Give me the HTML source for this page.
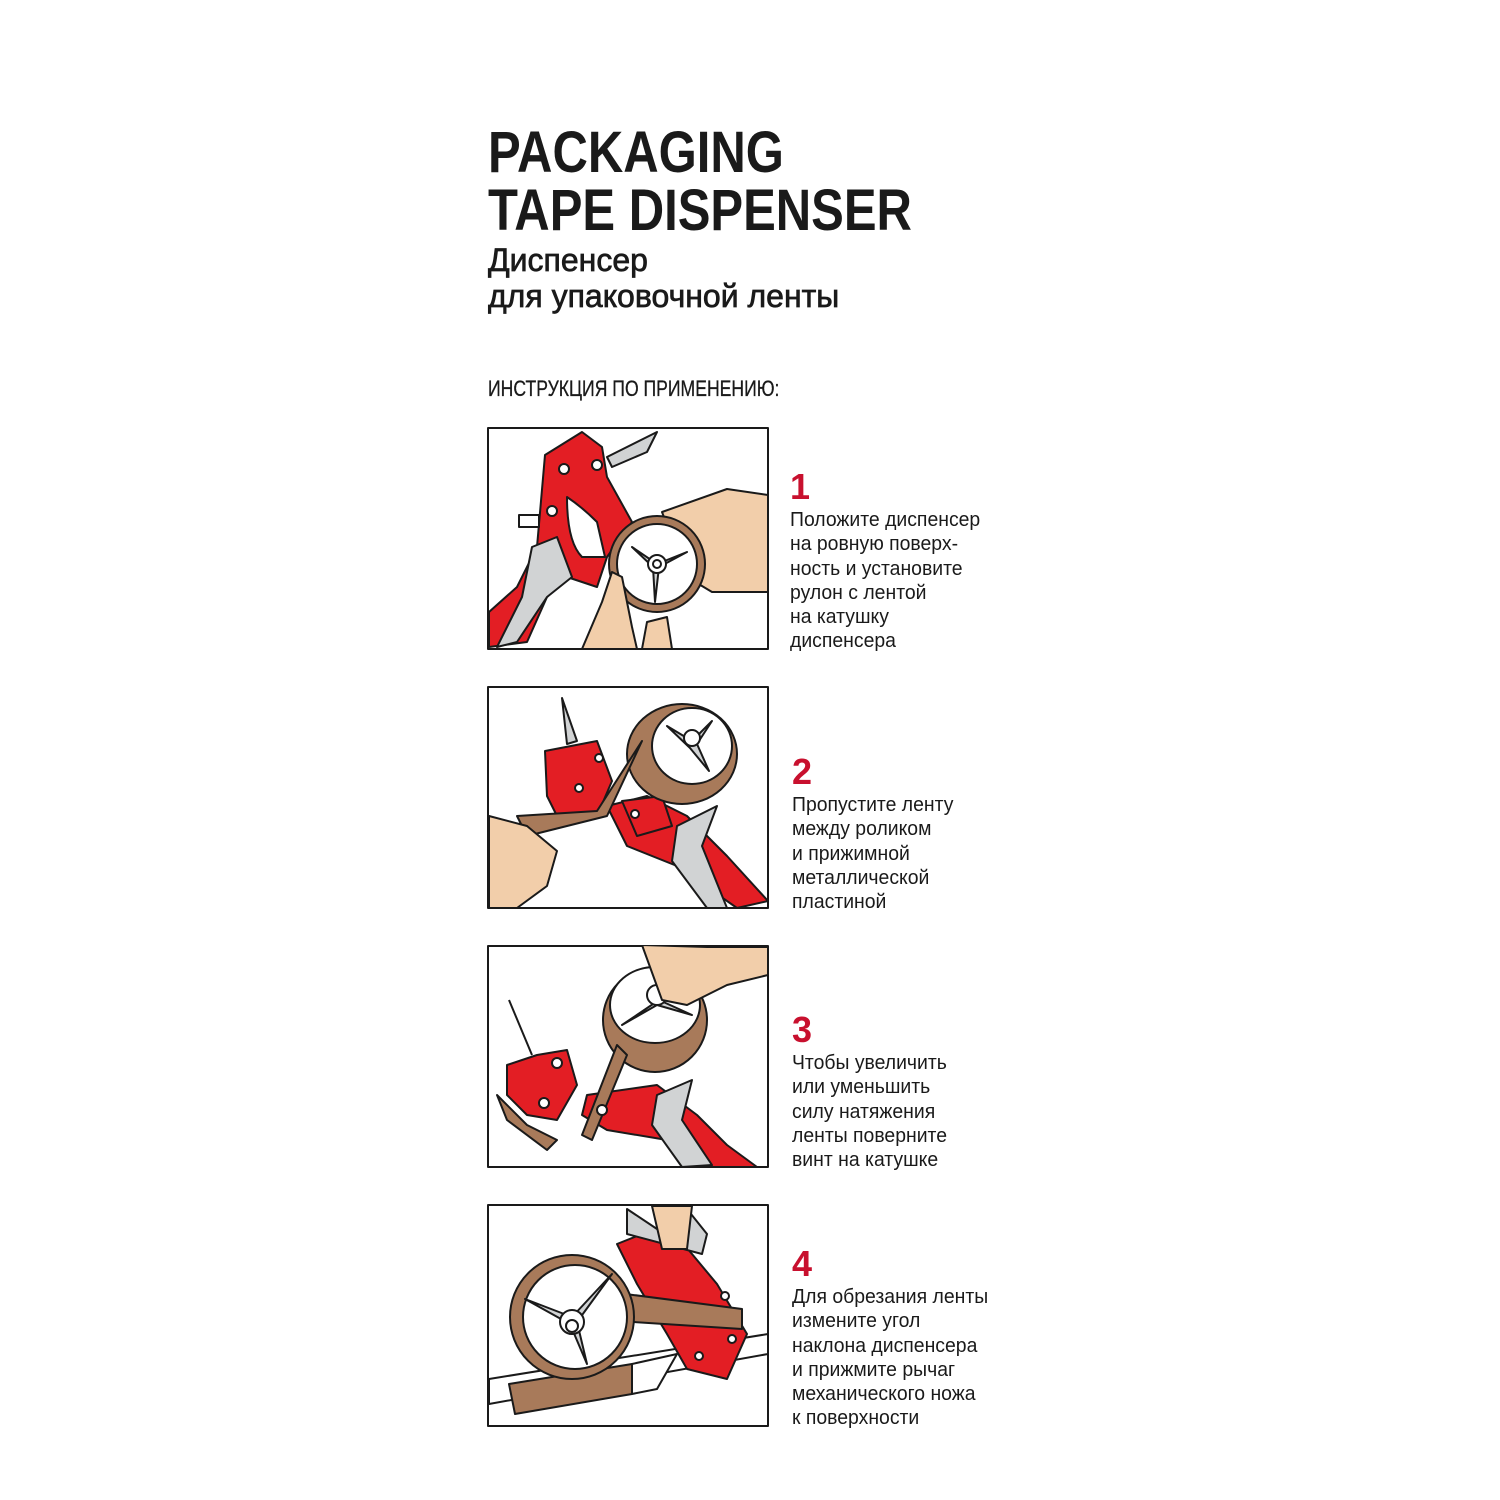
<!DOCTYPE html>
<html><head><meta charset="utf-8"><style>
body{margin:0;background:#fff;width:1500px;height:1500px;position:relative;overflow:hidden;font-family:"Liberation Sans","DejaVu Sans",sans-serif;color:#1a1a1a}
.a{position:absolute;white-space:nowrap;transform-origin:0 0}
.t{font-weight:bold;font-size:58px;line-height:58px;transform:scaleX(.845)}
.s{font-size:32px;line-height:36px;transform:scaleX(1.0);-webkit-text-stroke:0.7px #1a1a1a}
.h{font-size:22px;transform:scaleX(.8);-webkit-text-stroke:0.3px #1a1a1a}
.n{font-size:36px;font-weight:bold;color:#c8102e}
.p{font-size:20px;line-height:24.3px;transform:scaleX(.97)}
svg{position:absolute}
</style></head><body>
<div class="a t" style="left:488px;top:124px">PACKAGING</div>
<div class="a t" style="left:488px;top:182px">TAPE DISPENSER</div>
<div class="a s" style="left:488px;top:242px">Диспенсер</div>
<div class="a s" style="left:488px;top:278px">для упаковочной ленты</div>
<div class="a h" style="left:488px;top:376px">ИНСТРУКЦИЯ ПО ПРИМЕНЕНИЮ:</div>

<div class="a n" style="left:790px;top:466px">1</div>
<div class="a p" style="left:790px;top:508px">Положите диспенсер<br>на ровную поверх-<br>ность и установите<br>рулон с лентой<br>на катушку<br>диспенсера</div>
<div class="a n" style="left:792px;top:751px">2</div>
<div class="a p" style="left:792px;top:793px">Пропустите ленту<br>между роликом<br>и прижимной<br>металлической<br>пластиной</div>
<div class="a n" style="left:792px;top:1009px">3</div>
<div class="a p" style="left:792px;top:1051px">Чтобы увеличить<br>или уменьшить<br>силу натяжения<br>ленты поверните<br>винт на катушке</div>
<div class="a n" style="left:792px;top:1243px">4</div>
<div class="a p" style="left:792px;top:1285px">Для обрезания ленты<br>измените угол<br>наклона диспенсера<br>и прижмите рычаг<br>механического ножа<br>к поверхности</div>

<!-- panel 1 -->
<svg style="left:487px;top:427px" width="283" height="224" viewBox="0 0 283 224" stroke="#1a1a1a" stroke-width="2" stroke-linejoin="round">
<rect x="1" y="1" width="280" height="221" fill="#fff"/>
<path d="M120 30 L170 5 L160 25 L125 40Z" fill="#d1d3d4"/>
<path d="M58 28 L95 5 L115 20 L120 50 L145 95 L120 130 L110 160 L80 150 L60 170 L40 215 L2 220 L2 185 L30 160 L50 120 Z" fill="#e31e24"/>
<path d="M80 70 Q95 80 110 95 L118 130 L95 130 Q80 115 80 70Z" fill="#fff"/>
<path d="M45 120 L70 110 L85 150 L60 170 L30 215 L10 220 L35 170 Z" fill="#d1d3d4"/>
<path d="M32 88 L52 88 L52 100 L32 100Z" fill="#fff"/>
<circle cx="77" cy="42" r="5" fill="#fff"/><circle cx="110" cy="38" r="5" fill="#fff"/><circle cx="65" cy="84" r="5" fill="#fff"/>
<path d="M175 85 L240 62 L281 68 L281 165 L225 165 L200 150Z" fill="#f2ceaa"/>
<circle cx="170" cy="137" r="48" fill="#a87a5a"/><circle cx="170" cy="137" r="40" fill="#fff"/>
<path d="M145 120 L170 137 L200 125 L172 140 L168 175 L166 140Z" fill="#d1d3d4"/>
<circle cx="170" cy="137" r="9" fill="#fff"/><circle cx="170" cy="137" r="4" fill="#fff"/>
<path d="M95 222 L115 175 L125 145 L135 150 L145 200 L150 222Z" fill="#f2ceaa"/>
<path d="M155 222 L160 195 L180 190 L185 222Z" fill="#f2ceaa"/>
</svg>

<!-- panel 2 -->
<svg style="left:487px;top:686px" width="283" height="224" viewBox="0 0 283 224" stroke="#1a1a1a" stroke-width="2" stroke-linejoin="round">
<rect x="1" y="1" width="280" height="221" fill="#fff"/>
<path d="M75 12 L90 55 L80 58Z" fill="#d1d3d4"/>
<path d="M58 65 L110 55 L125 95 L110 130 L70 130 L60 110Z" fill="#e31e24"/>
<path d="M120 120 L160 110 L200 130 L240 170 L281 215 L250 222 L190 180 L140 160Z" fill="#e31e24"/>
<path d="M190 140 L230 120 L215 160 L240 222 L220 222 L185 175Z" fill="#d1d3d4"/>
<path d="M135 115 L175 110 L185 140 L150 150Z" fill="#e31e24"/>
<ellipse cx="195" cy="68" rx="55" ry="50" fill="#a87a5a"/><ellipse cx="205" cy="60" rx="40" ry="38" fill="#fff"/>
<path d="M180 40 L205 55 L225 35 L210 58 L222 85 L203 62Z" fill="#d1d3d4"/>
<circle cx="205" cy="52" r="8" fill="#fff"/>
<path d="M155 55 L120 130 L40 150 L30 130 L110 125Z" fill="#a87a5a"/>
<path d="M2 130 L40 140 L70 165 L60 200 L30 222 L2 222Z" fill="#f2ceaa"/>
<circle cx="92" cy="102" r="4" fill="#fff"/><circle cx="112" cy="72" r="4" fill="#fff"/><circle cx="148" cy="128" r="4" fill="#fff"/>
</svg>

<!-- panel 3 -->
<svg style="left:487px;top:945px" width="283" height="224" viewBox="0 0 283 224" stroke="#1a1a1a" stroke-width="2" stroke-linejoin="round">
<rect x="1" y="1" width="280" height="221" fill="#fff"/>
<path d="M22 55 L45 110" fill="none"/>
<path d="M20 120 L50 110 L80 105 L90 140 L70 175 L40 170 L20 150Z" fill="#e31e24"/>
<path d="M100 150 L170 140 L210 170 L240 200 L270 222 L225 222 L180 195 L120 185 L95 170Z" fill="#e31e24"/>
<path d="M170 150 L205 135 L195 175 L225 220 L195 222 L165 180Z" fill="#d1d3d4"/>
<path d="M10 150 L40 180 L70 195 L60 205 L20 175Z" fill="#a87a5a"/>
<ellipse cx="168" cy="75" rx="52" ry="52" fill="#a87a5a"/><ellipse cx="168" cy="60" rx="45" ry="38" fill="#fff"/>
<path d="M135 80 L172 55 L205 70 L170 60 Z" fill="#d1d3d4"/>
<circle cx="170" cy="50" r="10" fill="#fff"/>
<path d="M155 0 L175 55 L200 60 L240 40 L281 30 L281 2 L220 2 Z" fill="#f2ceaa"/>
<path d="M130 100 L95 190 L105 195 L140 110Z" fill="#a87a5a"/>
<circle cx="70" cy="118" r="5" fill="#fff"/><circle cx="57" cy="158" r="5" fill="#fff"/><circle cx="115" cy="165" r="5" fill="#fff"/>
</svg>

<!-- panel 4 -->
<svg style="left:487px;top:1204px" width="283" height="224" viewBox="0 0 283 224" stroke="#1a1a1a" stroke-width="2" stroke-linejoin="round">
<rect x="1" y="1" width="280" height="221" fill="#fff"/>
<path d="M2 175 L281 130 L281 150 L2 200Z" fill="#fff"/>
<path d="M22 180 L145 160 L145 190 L28 210Z" fill="#a87a5a"/>
<path d="M145 160 L190 150 L170 185 L145 190Z" fill="#fff"/>
<path d="M130 40 L180 20 L230 80 L260 130 L240 175 L200 165 L180 130 L150 80Z" fill="#e31e24"/>
<path d="M140 5 L170 25 L200 5 L220 30 L215 50 L140 30Z" fill="#d1d3d4"/>
<path d="M165 2 L205 2 L200 45 L175 45Z" fill="#f2ceaa"/>
<path d="M100 85 L255 105 L255 125 L100 115Z" fill="#a87a5a"/>
<circle cx="85" cy="113" r="62" fill="#a87a5a"/><circle cx="88" cy="113" r="52" fill="#fff"/>
<path d="M38 95 L85 113 L125 70 L90 118 L100 160 L83 120Z" fill="#d1d3d4"/>
<circle cx="85" cy="118" r="12" fill="#fff"/><circle cx="85" cy="122" r="6" fill="#fff"/>
<circle cx="238" cy="92" r="4" fill="#fff"/><circle cx="245" cy="135" r="4" fill="#fff"/><circle cx="212" cy="152" r="4" fill="#fff"/>
</svg>
</body></html>
